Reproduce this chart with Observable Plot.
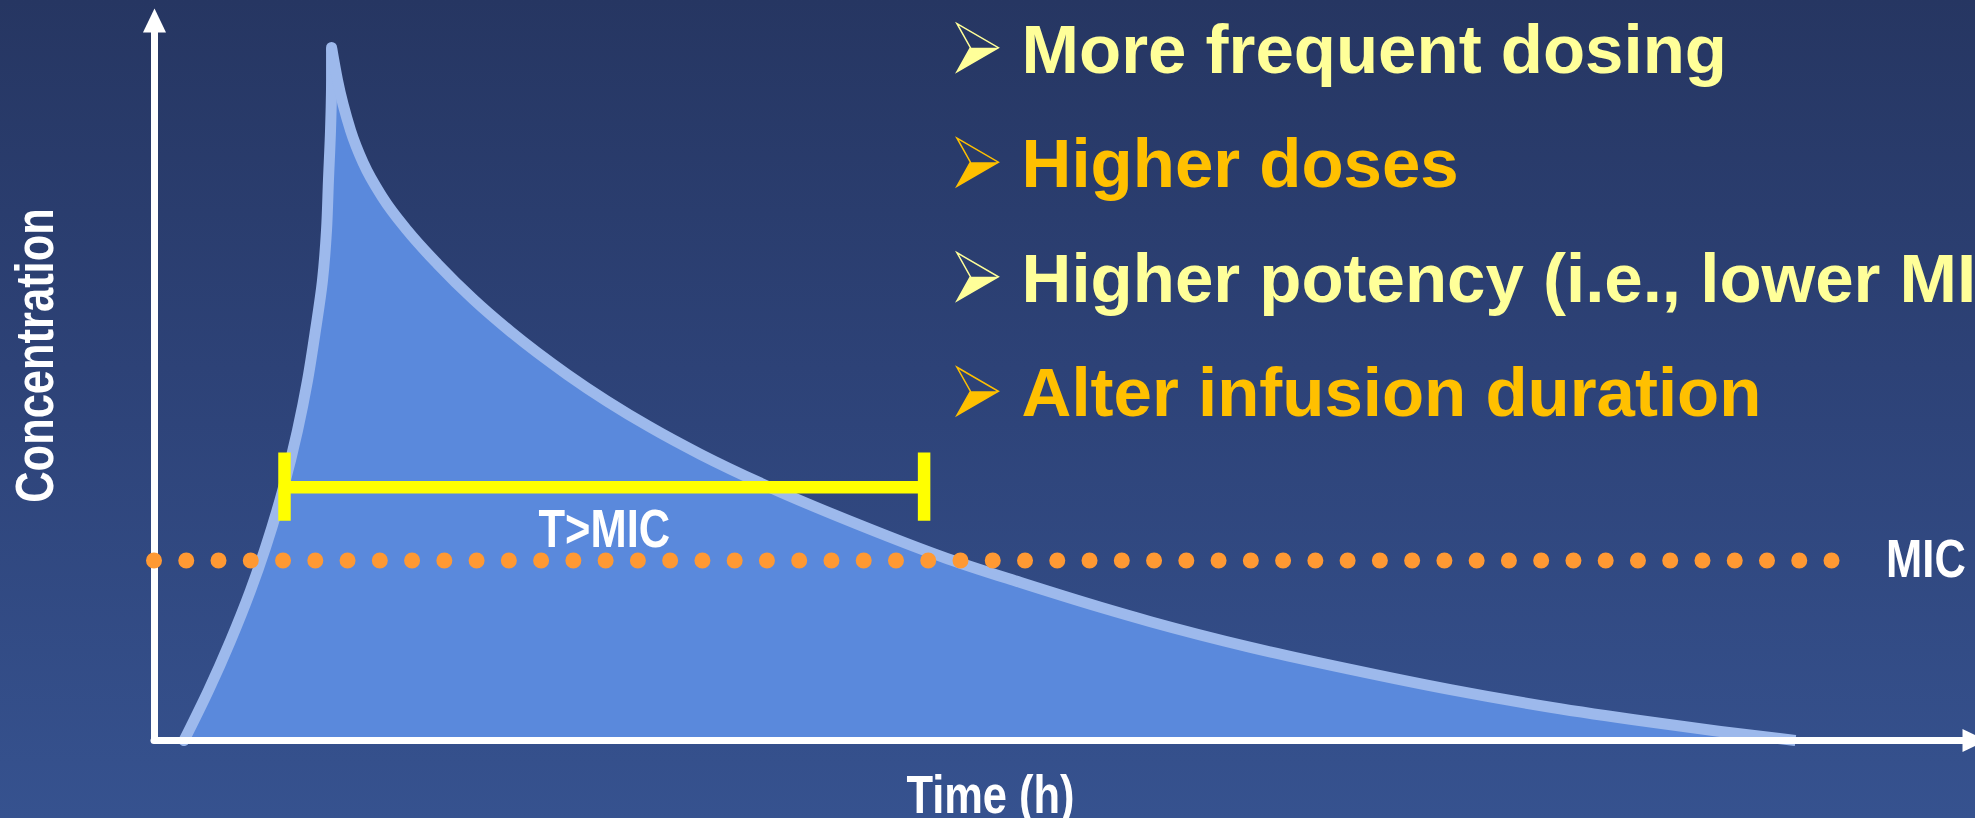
<!DOCTYPE html>
<html>
<head>
<meta charset="utf-8">
<script src="https://cdn.jsdelivr.net/npm/d3@7"></script>
<script src="https://cdn.jsdelivr.net/npm/@observablehq/plot@0.6"></script>
<style>
  html, body { margin: 0; padding: 0; overflow: hidden; background: #2e4479; }
  #chart svg { display: block; }
</style>
</head>
<body>
<div id="chart"></div>
<script>
// Concentration–time profile of one infusion: rise to the peak, then elimination (time in h)
const riseTime = [0.227, 0.415, 0.585, 0.738, 0.854, 0.992, 1.100, 1.177, 1.238, 1.292, 1.323, 1.338, 1.354, 1.362, 1.362];
const riseConc = [0.00, 1.11, 2.22, 3.33, 4.29, 5.62, 6.89, 8.00, 9.11, 10.22, 11.33, 12.44, 13.56, 14.67, 15.40];
const fallTime = [1.362, 1.408, 1.508, 1.608, 1.754, 1.946, 2.177, 2.454, 2.738, 3.177, 3.815, 4.200, 4.723, 5.431, 6.100, 6.662, 7.277, 7.662, 8.431, 9.200, 9.969, 10.738, 11.508, 12.046, 12.623];
const fallConc = [15.40, 14.67, 13.56, 12.82, 12.07, 11.33, 10.59, 9.80, 9.09, 8.13, 6.96, 6.36, 5.64, 4.78, 4.04, 3.51, 2.96, 2.64, 2.07, 1.58, 1.13, 0.74, 0.41, 0.20, 0.00];

// Minimum inhibitory concentration and the span of the MIC line
const mic = 4;
const micLineEnd = 12.91;

// Time above MIC, marked at its level
const tmicStart = 1.0;
const tmicEnd = 5.92;
const tmicLevel = 5.63;

// Axis extents (arrow tips)
const timeMax = 14;
const concMax = 16;

// Text
const xLabel = "Time (h)";
const yLabel = "Concentration";
const micLabel = "MIC";
const tmicLabel = "T>MIC";
const bulletItems = ["More frequent dosing", "Higher doses", "Higher potency (i.e., lower MIC)", "Alter infusion duration"];
const bulletColors = ["#ffff99", "#ffc000", "#ffff99", "#ffc000"];

const rise = riseTime.map((t, i) => ({t, c: riseConc[i]}));
const fall = fallTime.map((t, i) => ({t, c: fallConc[i]}));
const profile = [...rise, ...fall.slice(1)];

// Filled arrowhead pointing up (rotated for the time axis)
const arrowHead = {
  draw(ctx, size) {
    const r = Math.sqrt(size / Math.PI);
    ctx.moveTo(0, -r);
    ctx.lineTo(0.96 * r, r);
    ctx.lineTo(-0.96 * r, r);
    ctx.closePath();
  }
};
// Three-dimensional arrowhead bullet: full outline and shaded lower facet
const bulletOutline = {
  draw(ctx, size) {
    const r = Math.sqrt(size / Math.PI);
    ctx.moveTo(-0.85 * r, -r);
    ctx.lineTo(0.875 * r, 0);
    ctx.lineTo(-0.85 * r, r);
    ctx.lineTo(-0.29 * r, 0);
    ctx.closePath();
  }
};
const bulletFacet = {
  draw(ctx, size) {
    const r = Math.sqrt(size / Math.PI);
    ctx.moveTo(-0.29 * r, 0);
    ctx.lineTo(0.875 * r, 0);
    ctx.lineTo(-0.85 * r, r);
    ctx.closePath();
  }
};

// Layout of the bullet list, in chart units
const listX = 6.67, bulletX = 6.33, listTop = 14.84, listStep = 2.545, bulletRise = 0.556;

const sans = "'Liberation Sans', Arial, sans-serif";
const labelFont = {fill: "white", fontFamily: sans, fontWeight: "bold", fontSize: 53};

const chart = Plot.plot({
  width: 1975,
  height: 818,
  marginLeft: 154,
  marginRight: 1,
  marginTop: 20,
  marginBottom: 78,
  x: {domain: [0, timeMax], axis: null},
  y: {domain: [0, concMax], axis: null},
  color: {type: "identity"},
  style: {
    background: "linear-gradient(180deg, #263662 0%, #2d4277 45%, #36528f 100%)",
    overflow: "hidden"
  },
  marks: [
    // area under the curve (unstacked, from zero up to the concentration)
    Plot.areaY(profile, {x: "t", y1: 0, y2: "c", curve: "linear", fill: "#5a89dc"}),
    // concentration curve
    Plot.line(rise, {x: "t", y: "c", curve: "monotone-y", stroke: "#9db9ec", strokeWidth: 11, strokeLinecap: "round"}),
    Plot.line(fall, {x: "t", y: "c", curve: "monotone-x", stroke: "#9db9ec", strokeWidth: 11, strokeLinecap: "butt"}),
    // axes with arrowheads
    Plot.ruleX([0], {y1: 0, y2: concMax, stroke: "white", strokeWidth: 7, strokeLinecap: "round"}),
    Plot.ruleY([0], {x1: 0, x2: timeMax, stroke: "white", strokeWidth: 7, strokeLinecap: "round"}),
    Plot.dot([{t: 0, c: concMax}], {x: "t", y: "c", symbol: arrowHead, r: 12, fill: "white"}),
    Plot.dot([{t: timeMax, c: 0}], {x: "t", y: "c", symbol: arrowHead, r: 12, fill: "white", rotate: 90}),
    // time above MIC bracket
    Plot.ruleY([tmicLevel], {x1: tmicStart, x2: tmicEnd, stroke: "#ffff00", strokeWidth: 12.5}),
    Plot.ruleX([tmicStart, tmicEnd], {y1: tmicLevel - 0.76, y2: tmicLevel + 0.76, stroke: "#ffff00", strokeWidth: 12.5}),
    Plot.text([tmicLabel], {x: (tmicStart + tmicEnd) / 2, y: 4.31, textAnchor: "middle", lineAnchor: "bottom", ...labelFont}),
    // MIC level, dotted
    Plot.ruleY([mic], {x1: 0, x2: micLineEnd, stroke: "#ff9933", strokeWidth: 16, strokeLinecap: "round", strokeDasharray: "0 32.26"}),
    Plot.text([micLabel], {x: 13.32, y: mic, textAnchor: "start", lineAnchor: "middle", ...labelFont}),
    // axis titles
    Plot.text([yLabel], {frameAnchor: "left", dx: -118, dy: -25, rotate: -90, textAnchor: "middle", lineAnchor: "middle", ...labelFont}),
    Plot.text([xLabel], {frameAnchor: "bottom", dx: -74, dy: 72, textAnchor: "middle", lineAnchor: "bottom", ...labelFont}),
    // bullet list
    Plot.dot(bulletItems, {x: () => bulletX, y: (d, i) => listTop - i * listStep + bulletRise, symbol: bulletFacet, r: 24,
      fill: (d, i) => bulletColors[i]}),
    Plot.dot(bulletItems, {x: () => bulletX, y: (d, i) => listTop - i * listStep + bulletRise, symbol: bulletOutline, r: 24,
      fill: "none", stroke: (d, i) => bulletColors[i], strokeWidth: 1.5}),
    Plot.text(bulletItems, {x: () => listX, y: (d, i) => listTop - i * listStep, textAnchor: "start", lineAnchor: "bottom",
      fill: (d, i) => bulletColors[i], fontFamily: sans, fontWeight: "bold", fontSize: 69})
  ]
});

document.getElementById("chart").append(chart);

// The chart labels are set in a narrow bold face: condense them horizontally
const narrowLabels = new Set([xLabel, yLabel, micLabel, tmicLabel]);
d3.select(chart).selectAll("text").each(function () {
  if (!narrowLabels.has(this.textContent)) return;
  const w = this.getComputedTextLength();
  this.setAttribute("textLength", (w * 0.82).toFixed(1));
  this.setAttribute("lengthAdjust", "spacingAndGlyphs");
});
</script>
</body>
</html>
